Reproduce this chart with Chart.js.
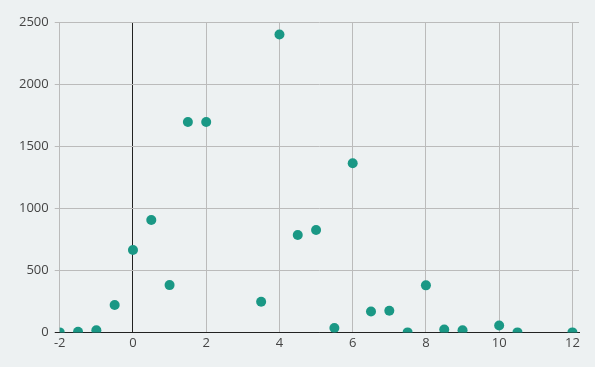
<!DOCTYPE html>
<html>
<head>
<meta charset="utf-8">
<script src="https://cdn.jsdelivr.net/npm/chart.js@4"></script>
<style>
  html, body { margin: 0; padding: 0; background: #edf1f2; }
  #wrap { width: 595px; height: 367px; }
</style>
</head>
<body>
<div id="wrap"><canvas id="c" width="595" height="367"></canvas></div>
<script>
const xValues = [-2, -1.5, -1, -0.5, 0, 0.5, 1, 1.5, 2, 3.5, 4, 4.5, 5, 5.5, 6, 6.5, 7, 7.5, 8, 8.5, 9, 10, 10.5, 12];
const yValues = [0, 5, 18, 220, 664, 905, 381, 1695, 1695, 247, 2400, 785, 825, 35, 1363, 169, 174, 0, 379, 24, 18, 56, 0, 0];
const xTicks = [-2, 0, 2, 4, 6, 8, 10, 12];
const yTicks = [0, 500, 1000, 1500, 2000, 2500];

const points = xValues.map((x, i) => ({ x: x, y: yValues[i] }));
const tickFont = { family: 'Open Sans', size: 13 };

new Chart(document.getElementById('c'), {
  type: 'scatter',
  data: {
    datasets: [{
      data: points,
      backgroundColor: 'rgb(26,152,133)',
      borderColor: 'rgb(26,152,133)',
      pointRadius: 5,
      pointHoverRadius: 5,
      borderWidth: 0
    }]
  },
  options: {
    responsive: false,
    animation: false,
    layout: { padding: { top: 22, right: 16, left: 13, bottom: 13 } },
    plugins: { legend: { display: false }, tooltip: { enabled: false } },
    scales: {
      x: {
        type: 'linear',
        min: -2,
        max: 12.18,
        afterBuildTicks: (axis) => { axis.ticks = xTicks.map(v => ({ value: v })); },
        ticks: { color: '#444', font: tickFont, padding: 3, maxRotation: 0, callback: (v) => String(v) },
        grid: {
          color: (ctx) => (ctx.tick && ctx.tick.value === 0) ? '#222' : '#bbbbbb',
          lineWidth: 1,
          tickLength: 0,
          drawTicks: false
        },
        border: { display: true, color: '#222', width: 1 }
      },
      y: {
        type: 'linear',
        min: 0,
        max: 2500,
        afterBuildTicks: (axis) => { axis.ticks = yTicks.map(v => ({ value: v })); },
        ticks: { color: '#444', font: tickFont, padding: 6, callback: (v) => String(v) },
        grid: {
          color: (ctx) => (ctx.tick && ctx.tick.value === 0) ? '#222' : '#bbbbbb',
          lineWidth: 1,
          tickLength: 5
        },
        border: { display: false }
      }
    }
  }
});
</script>
</body>
</html>
